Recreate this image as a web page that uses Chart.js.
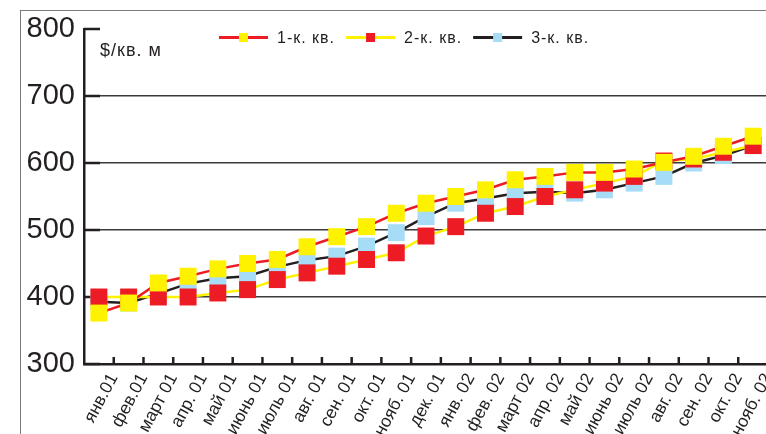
<!DOCTYPE html>
<html lang="ru">
<head>
<meta charset="utf-8">
<title>Цены, $/кв. м</title>
<script src="https://cdn.jsdelivr.net/npm/chart.js@4.4.1/dist/chart.umd.min.js"></script>
<style>
  html, body { margin: 0; padding: 0; background: #fff; overflow: hidden; }
  #frame { position: absolute; left: 20px; top: 10px; width: 900px; height: 600px; border: 1px solid #7a7a7a; }
  #wrap { position: absolute; left: 0; top: 0; width: 780px; height: 434px; }
</style>
</head>
<body>
<div id="frame"></div>
<div id="wrap"><canvas id="priceChart"></canvas></div>
<script>
const months = ['янв.01', 'фев.01', 'март 01', 'апр. 01', 'май 01', 'июнь 01', 'июль 01', 'авг. 01', 'сен. 01', 'окт. 01', 'нояб. 01', 'дек. 01',
    'янв. 02', 'фев. 02', 'март 02', 'апр. 02', 'май 02', 'июнь 02', 'июль 02', 'авг. 02', 'сен. 02', 'окт. 02', 'нояб. 02'];
const oneRoom = [376, 391, 421, 431, 442, 450, 456, 475, 490, 505, 525, 540, 550, 560, 575, 580, 586, 586, 591, 601, 610, 625, 640];
const twoRoom = [400, 400, 400, 400, 406, 411, 426, 436, 446, 456, 466, 491, 505, 525, 535, 550, 560, 570, 580, 603, 606, 616, 626];
const threeRoom = [393, 391, 405, 420, 428, 431, 445, 455, 461, 476, 496, 520, 540, 547, 555, 557, 555, 560, 570, 580, 600, 611, 626];
const seriesNames = ['1-к. кв.', '2-к. кв.', '3-к. кв.'];
const yTicks = [300, 400, 500, 600, 700, 800];
const unitLabel = '$/кв. м';

const INK = '#231F20';
const FONT = '"Liberation Sans", Arial, sans-serif';

// short inward tick marks on both axes
const axisMarks = {
    id: 'axisMarks',
    beforeDatasetsDraw(chart) {
        const { ctx, chartArea, scales: { x, y } } = chart;
        ctx.save();
        ctx.strokeStyle = INK;
        ctx.lineWidth = 2.5;
        ctx.beginPath();
        yTicks.forEach(v => {
            const py = y.getPixelForValue(v);
            ctx.moveTo(chartArea.left, py);
            ctx.lineTo(chartArea.left + 16, py);
        });
        for (let i = 1; i < months.length; i++) {
            const px = x.getPixelForValue(i - 0.5);
            ctx.moveTo(px, chartArea.bottom);
            ctx.lineTo(px, chartArea.bottom - 7);
        }
        ctx.stroke();
        ctx.restore();
    }
};

// legend with line + square marker, and the unit caption
const lineLegend = {
    id: 'lineLegend',
    afterDraw(chart) {
        const { ctx, chartArea } = chart;
        ctx.save();
        ctx.font = '16px ' + FONT;
        ctx.letterSpacing = '1px';
        ctx.textBaseline = 'middle';
        let x = chartArea.left + 135;
        const y = chartArea.top + 8.5;
        chart.data.datasets.forEach(ds => {
            ctx.strokeStyle = ds.borderColor;
            ctx.lineWidth = 3;
            ctx.beginPath();
            ctx.moveTo(x, y);
            ctx.lineTo(x + 49, y);
            ctx.stroke();
            ctx.fillStyle = ds.pointBackgroundColor;
            ctx.fillRect(x + 20, y - 4.5, 9, 9);
            ctx.fillStyle = INK;
            ctx.fillText(ds.label, x + 58, y + 1);
            x += 58 + ctx.measureText(ds.label).width + 11;
        });
        ctx.font = '18px ' + FONT;
        ctx.letterSpacing = '1px';
        ctx.textBaseline = 'alphabetic';
        ctx.fillText(unitLabel, chartArea.left + 16, chartArea.top + 27);
        ctx.restore();
    }
};

const chart = new Chart(document.getElementById('priceChart'), {
    type: 'line',
    data: {
        labels: months,
        datasets: [{
            label: seriesNames[0],
            data: oneRoom,
            borderColor: '#ED1C24',
            pointBackgroundColor: '#FFF200'
        }, {
            label: seriesNames[1],
            data: twoRoom,
            borderColor: '#FFF200',
            pointBackgroundColor: '#ED1C24'
        }, {
            label: seriesNames[2],
            data: threeRoom,
            borderColor: INK,
            pointBackgroundColor: '#A6DCF5'
        }]
    },
    options: {
        responsive: true,
        maintainAspectRatio: false,
        animation: false,
        layout: { padding: { top: 29, left: 0, right: 4, bottom: 0 } },
        elements: {
            line: { borderWidth: 2.5, tension: 0 },
            point: { pointStyle: 'rect', radius: 12, borderWidth: 0, hoverRadius: 12 }
        },
        plugins: {
            legend: { display: false },
            tooltip: { enabled: false }
        },
        scales: {
            x: {
                offset: true,
                afterFit: scale => { scale.height = 70; },
                grid: { display: true, drawOnChartArea: false, drawTicks: false, offset: true },
                border: { display: true, color: INK, width: 2.5 },
                ticks: {
                    autoSkip: false,
                    minRotation: 62,
                    maxRotation: 62,
                    padding: 6,
                    labelOffset: 15,
                    color: INK,
                    font: { family: FONT, size: 17.5 }
                }
            },
            y: {
                min: 300,
                max: 800,
                afterFit: scale => { scale.width = 84; },
                afterBuildTicks: scale => { scale.ticks = yTicks.map(v => ({ value: v })); },
                grid: {
                    drawTicks: false,
                    color: c => c.tick && c.tick.value === 800 ? 'rgba(0,0,0,0)' : '#3a3a3a',
                    lineWidth: 1.5
                },
                border: { display: true, color: INK, width: 2.5 },
                ticks: {
                    padding: 9,
                    color: INK,
                    font: { family: FONT, size: 29 }
                }
            }
        }
    },
    plugins: [axisMarks, lineLegend]
});
</script>
</body>
</html>
